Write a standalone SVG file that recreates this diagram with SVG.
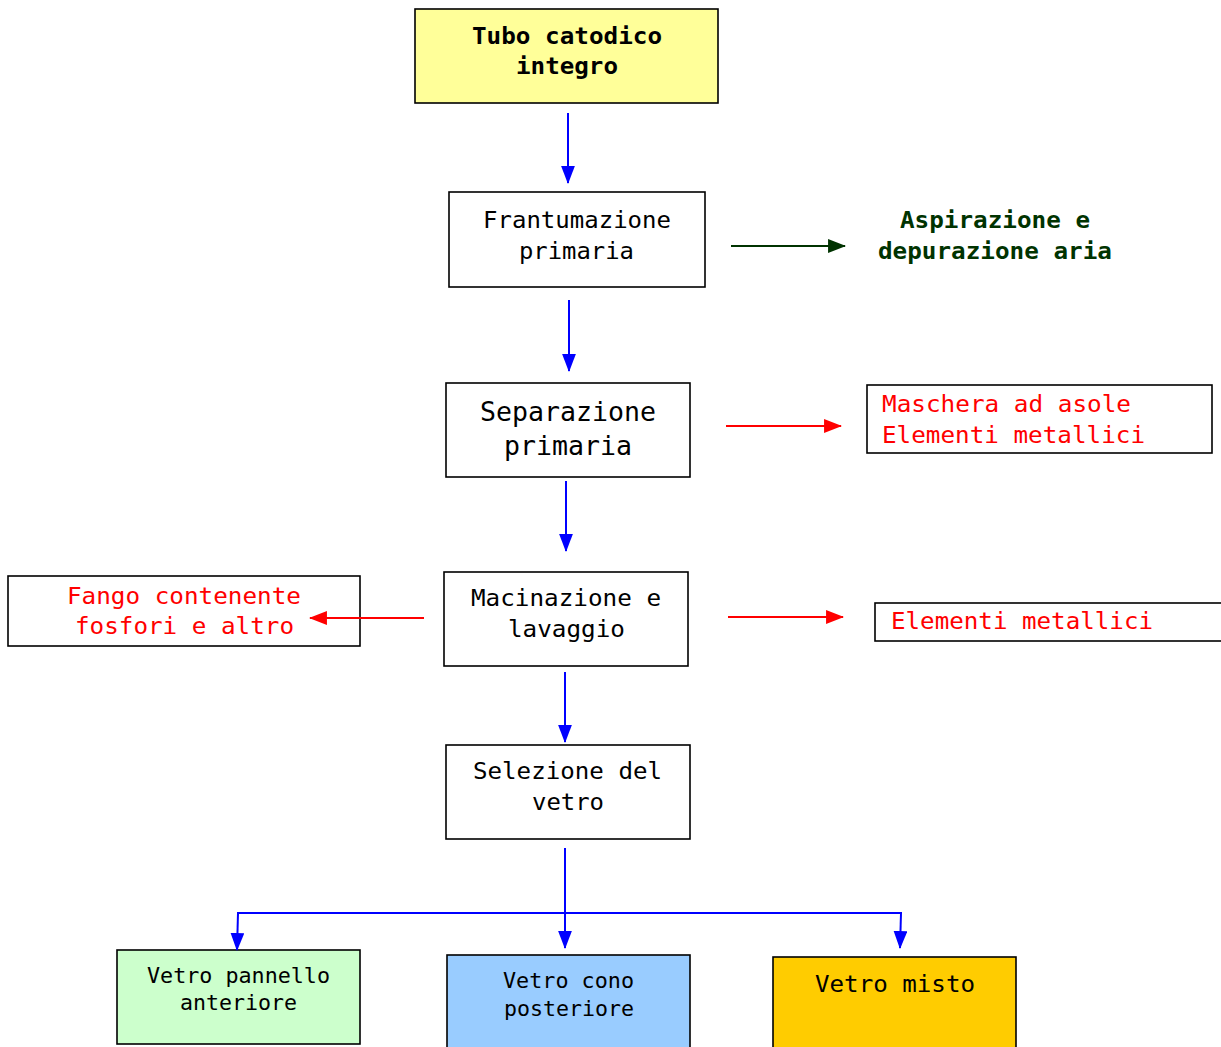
<svg xmlns="http://www.w3.org/2000/svg" width="1221" height="1047" viewBox="0 0 1221 1047">
<defs>
<style>
.box{stroke:#000;stroke-width:1.6;fill:#fff}
.t{font-family:"DejaVu Sans Mono","Liberation Mono",monospace;font-size:23px;fill:#000}
.big{font-size:27px}
.sm{font-size:21px}
.b{font-weight:bold}
.red{fill:#f00}
.grn{fill:#003300}
.lb{stroke:#0000ff;stroke-width:2;fill:none}
.lr{stroke:#ff0000;stroke-width:2;fill:none}
.lg{stroke:#003300;stroke-width:2;fill:none}
</style>
<marker id="ab" markerUnits="userSpaceOnUse" markerWidth="18" markerHeight="14" viewBox="0 0 17 13" refX="16" refY="6.5" orient="auto"><path d="M0,0 L17,6.5 L0,13 z" fill="#0000ff"/></marker>
<marker id="ar" markerUnits="userSpaceOnUse" markerWidth="18" markerHeight="14" viewBox="0 0 17 13" refX="16" refY="6.5" orient="auto"><path d="M0,0 L17,6.5 L0,13 z" fill="#ff0000"/></marker>
<marker id="ag" markerUnits="userSpaceOnUse" markerWidth="18" markerHeight="14" viewBox="0 0 17 13" refX="16" refY="6.5" orient="auto"><path d="M0,0 L17,6.5 L0,13 z" fill="#003300"/></marker>
</defs>
<rect width="1221" height="1047" fill="#fff"/>
<g id="n-tubo">
<rect class="box" x="415" y="9" width="303" height="94" style="fill:#ffff99"/>
<text class="t b" x="472" y="44" textLength="190" lengthAdjust="spacingAndGlyphs">Tubo catodico</text>
<text class="t b" x="516" y="74" textLength="102" lengthAdjust="spacingAndGlyphs">integro</text>
</g>
<g id="n-frantumazione">
<rect class="box" x="449" y="192" width="256" height="95"/>
<text class="t" x="483" y="228" textLength="188" lengthAdjust="spacingAndGlyphs">Frantumazione</text>
<text class="t" x="519" y="259" textLength="115" lengthAdjust="spacingAndGlyphs">primaria</text>
</g>
<g id="n-aspirazione">
<text class="t b grn" x="900" y="228" textLength="190" lengthAdjust="spacingAndGlyphs">Aspirazione e</text>
<text class="t b grn" x="878" y="259" textLength="234" lengthAdjust="spacingAndGlyphs">depurazione aria</text>
</g>
<g id="n-separazione">
<rect class="box" x="446" y="383" width="244" height="94"/>
<text class="t big" x="480" y="421" textLength="176" lengthAdjust="spacingAndGlyphs">Separazione</text>
<text class="t big" x="504" y="455" textLength="128" lengthAdjust="spacingAndGlyphs">primaria</text>
</g>
<g id="n-maschera">
<rect class="box" x="867" y="385" width="345" height="68"/>
<text class="t red" x="882" y="412" textLength="249" lengthAdjust="spacingAndGlyphs">Maschera ad asole</text>
<text class="t red" x="882" y="443" textLength="263" lengthAdjust="spacingAndGlyphs">Elementi metallici</text>
</g>
<g id="n-macinazione">
<rect class="box" x="444" y="572" width="244" height="94"/>
<text class="t" x="471" y="606" textLength="190" lengthAdjust="spacingAndGlyphs">Macinazione e</text>
<text class="t" x="508" y="637" textLength="117" lengthAdjust="spacingAndGlyphs">lavaggio</text>
</g>
<g id="n-fango">
<rect class="box" x="8" y="576" width="352" height="70"/>
<text class="t red" x="67" y="604" textLength="234" lengthAdjust="spacingAndGlyphs">Fango contenente</text>
<text class="t red" x="75" y="634" textLength="219" lengthAdjust="spacingAndGlyphs">fosfori e altro</text>
</g>
<g id="n-elementi">
<rect class="box" x="875" y="603" width="350" height="38"/>
<text class="t red" x="891" y="629" textLength="262" lengthAdjust="spacingAndGlyphs">Elementi metallici</text>
</g>
<g id="n-selezione">
<rect class="box" x="446" y="745" width="244" height="94"/>
<text class="t" x="473" y="779" textLength="189" lengthAdjust="spacingAndGlyphs">Selezione del</text>
<text class="t" x="532" y="810" textLength="72" lengthAdjust="spacingAndGlyphs">vetro</text>
</g>
<g id="n-pannello">
<rect class="box" x="117" y="950" width="243" height="94" style="fill:#ccffcc"/>
<text class="t sm" x="147" y="983" textLength="183" lengthAdjust="spacingAndGlyphs">Vetro pannello</text>
<text class="t sm" x="180" y="1010" textLength="117" lengthAdjust="spacingAndGlyphs">anteriore</text>
</g>
<g id="n-cono">
<rect class="box" x="447" y="955" width="243" height="100" style="fill:#99ccff"/>
<text class="t sm" x="503" y="988" textLength="131" lengthAdjust="spacingAndGlyphs">Vetro cono</text>
<text class="t sm" x="504" y="1016" textLength="130" lengthAdjust="spacingAndGlyphs">posteriore</text>
</g>
<g id="n-misto">
<rect class="box" x="773" y="957" width="243" height="100" style="fill:#ffcc00"/>
<text class="t" x="815" y="992" textLength="160" lengthAdjust="spacingAndGlyphs">Vetro misto</text>
</g>
<g id="connectors">
<line class="lb" x1="568" y1="113" x2="568" y2="183" marker-end="url(#ab)"/>
<line class="lg" x1="731" y1="246" x2="845" y2="246" marker-end="url(#ag)"/>
<line class="lb" x1="569" y1="300" x2="569" y2="371" marker-end="url(#ab)"/>
<line class="lr" x1="726" y1="426" x2="841" y2="426" marker-end="url(#ar)"/>
<line class="lb" x1="566" y1="481" x2="566" y2="551" marker-end="url(#ab)"/>
<line class="lr" x1="424" y1="618" x2="310" y2="618" marker-end="url(#ar)"/>
<line class="lr" x1="728" y1="617" x2="843" y2="617" marker-end="url(#ar)"/>
<line class="lb" x1="565" y1="672" x2="565" y2="742" marker-end="url(#ab)"/>
<line class="lb" x1="565" y1="848" x2="565" y2="948" marker-end="url(#ab)"/>
<polyline class="lb" points="237,913 902,913"/>
<line class="lb" x1="238" y1="913" x2="237" y2="950" marker-end="url(#ab)"/>
<line class="lb" x1="901" y1="913" x2="900" y2="948" marker-end="url(#ab)"/>
</g>
</svg>
